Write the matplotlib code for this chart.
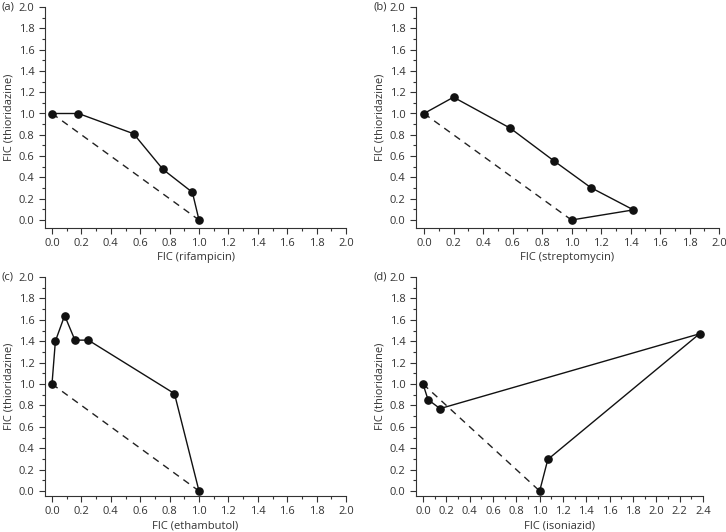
import numpy as np
import matplotlib
matplotlib.use('Agg')
import matplotlib.pyplot as plt
from matplotlib.ticker import MultipleLocator, FormatStrFormatter

# FIC values
rif_x = [0.0, 0.18, 0.555, 0.755, 0.955, 1.0]
rif_y = [1.0, 1.0, 0.81, 0.475, 0.26, 0.0]

str_x = [0.0, 0.20, 0.585, 0.88, 1.13, 1.42, 1.0]
str_y = [1.0, 1.153, 0.862, 0.556, 0.305, 0.095, 0.0]

eth_x = [0.0, 0.023, 0.086, 0.156, 0.247, 0.833, 1.0]
eth_y = [1.0, 1.40, 1.64, 1.41, 1.41, 0.91, 0.0]

inh_x = [0.0, 0.043, 0.146, 2.37, 1.07, 1.0]
inh_y = [1.0, 0.854, 0.77, 1.469, 0.295, 0.0]

panels = ['(a)', '(b)', '(c)', '(d)']
xlabels = ['FIC (rifampicin)', 'FIC (streptomycin)', 'FIC (ethambutol)', 'FIC (isoniazid)']
ylabel = 'FIC (thioridazine)'
xmax = [2.0, 2.0, 2.0, 2.4]

plt.rcParams['font.family'] = ['Open Sans', 'DejaVu Sans']
gray = '#333333'

fig = plt.figure(figsize=(7.26, 5.32), dpi=100)
W, H = 726.0, 532.0
# pixel boxes: left, right, top, bottom
boxes = [(45, 346, 7, 228), (416, 719, 7, 228), (45, 346, 277, 496), (416, 703, 277, 496)]
zero_px = [(52, 220), (424, 220), (52, 491), (423, 491)]
data = [(rif_x, rif_y), (str_x, str_y), (eth_x, eth_y), (inh_x, inh_y)]

for i in range(4):
    l, r, t, b = boxes[i]
    ax = fig.add_axes([l / W, (H - b) / H, (r - l) / W, (b - t) / H])
    x0, y0 = zero_px[i]
    sx = (r - x0) / xmax[i]
    sy = (y0 - t) / 2.0
    ax.set_xlim(-(x0 - l) / sx, xmax[i])
    ax.set_ylim(-(b - y0) / sy, 2.0)
    ax.plot([0, 1], [1, 0], ls=(0, (5, 4)), color='#222222', lw=1.0)
    x, y = data[i]
    ax.plot(x, y, '-o', color='#111111', lw=1.0, ms=5.2, clip_on=False, zorder=3)
    ax.spines['top'].set_visible(False)
    ax.spines['right'].set_visible(False)
    for s in ['left', 'bottom']:
        ax.spines[s].set_color(gray)
        ax.spines[s].set_linewidth(0.8)
    ax.set_xticks(np.arange(0, xmax[i] + 0.01, 0.2))
    ax.xaxis.set_minor_locator(MultipleLocator(0.1))
    ax.yaxis.set_major_locator(MultipleLocator(0.2))
    ax.yaxis.set_minor_locator(MultipleLocator(0.1))
    ax.tick_params(which='both', direction='out', colors=gray, labelsize=8, width=0.8)
    ax.tick_params(which='major', length=4)
    ax.tick_params(which='minor', length=2.5)
    ax.xaxis.set_major_formatter(FormatStrFormatter('%.1f'))
    ax.yaxis.set_major_formatter(FormatStrFormatter('%.1f'))
    ax.set_xlabel(xlabels[i], fontsize=8, color=gray, labelpad=2)
    ax.set_ylabel(ylabel, fontsize=8, color=gray, labelpad=3)
    fig.text((l - 43) / W, (H - t) / H, panels[i], fontsize=8, color=gray, va='center', ha='left')

fig.savefig('out.png', dpi=100)
